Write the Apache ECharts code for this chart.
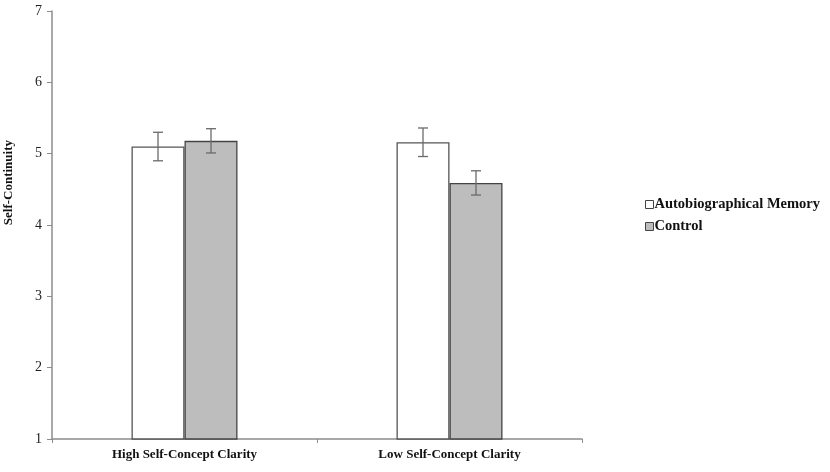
<!DOCTYPE html>
<html>
<head>
<meta charset="utf-8">
<script src="https://cdn.jsdelivr.net/npm/echarts@6/dist/echarts.min.js"></script>
<style>html,body{margin:0;padding:0;background:#fff}#c{width:830px;height:472px}</style>
</head>
<body>
<div id="c"></div>
<script>
const categories = ['High Self-Concept Clarity', 'Low Self-Concept Clarity'];
const seriesNames = ['Autobiographical Memory', 'Control'];
const memoryValues = [5.10, 5.16];
const memoryErrors = [0.20, 0.20];
const controlValues = [5.18, 4.59];
const controlErrors = [0.17, 0.17];
const yTicks = [1, 2, 3, 4, 5, 6, 7];

const FONT = '"Liberation Serif", "DejaVu Serif", serif';
const chart = echarts.init(document.getElementById('c'), null, {renderer: 'canvas'});

function errorSeries(values, errors, side) {
  return {
    type: 'custom',
    silent: true,
    z: 10,
    data: values.map((v, i) => [i, v, errors[i]]),
    renderItem: function (params, api) {
      const idx = api.value(0);
      const band = api.size([1, 0])[0];
      const off = band * 0.1 * side;
      const top = api.coord([idx, api.value(1) + api.value(2)]);
      const bot = api.coord([idx, api.value(1) - api.value(2)]);
      const x = top[0] + off;
      const cap = 5;
      const st = {stroke: '#6a6a6a', lineWidth: 1.3};
      return {
        type: 'group',
        children: [
          {type: 'line', shape: {x1: x, y1: top[1], x2: x, y2: bot[1]}, style: st},
          {type: 'line', shape: {x1: x - cap, y1: top[1], x2: x + cap, y2: top[1]}, style: st},
          {type: 'line', shape: {x1: x - cap, y1: bot[1], x2: x + cap, y2: bot[1]}, style: st}
        ]
      };
    }
  };
}

chart.setOption({
  backgroundColor: '#ffffff',
  animation: false,
  grid: {left: 52, right: 248, top: 11, bottom: 33, containLabel: false},
  legend: {
    orient: 'vertical',
    left: 640,
    top: 192,
    itemGap: 7,
    itemWidth: 8,
    itemHeight: 8,
    icon: 'rect',
    data: seriesNames,
    textStyle: {fontFamily: FONT, fontWeight: 'bold', fontSize: 14.5, color: '#111', padding: [0, 0, 0, -4]},
    itemStyle: {borderColor: '#444', borderWidth: 1}
  },
  xAxis: {
    type: 'category',
    data: categories,
    axisLine: {lineStyle: {color: '#8c8c8c', width: 1.5}},
    axisTick: {show: true, length: 4, lineStyle: {color: '#8c8c8c'}},
    axisLabel: {fontFamily: FONT, fontWeight: 'bold', fontSize: 13, color: '#111', margin: 9}
  },
  yAxis: {
    type: 'value',
    min: yTicks[0],
    max: yTicks[yTicks.length - 1],
    interval: 1,
    splitLine: {show: false},
    axisLine: {show: true, lineStyle: {color: '#8c8c8c', width: 1.5}},
    axisTick: {show: true, length: 5, lineStyle: {color: '#8c8c8c'}},
    axisLabel: {fontFamily: FONT, fontSize: 14, color: '#222', margin: 10}
  },
  graphic: [{
    type: 'text',
    left: 2,
    top: 140,
    rotation: Math.PI / 2,
    style: {text: 'Self-Continuity', font: 'bold 13px ' + FONT, fill: '#111'}
  }],
  series: [
    {
      name: seriesNames[0],
      type: 'bar',
      data: memoryValues,
      barWidth: '20%',
      barGap: '0%',
      itemStyle: {color: '#ffffff', borderColor: '#555555', borderWidth: 1.3}
    },
    {
      name: seriesNames[1],
      type: 'bar',
      data: controlValues,
      barWidth: '20%',
      barGap: '0%',
      itemStyle: {color: '#bdbdbd', borderColor: '#444444', borderWidth: 1.3}
    },
    errorSeries(memoryValues, memoryErrors, -1),
    errorSeries(controlValues, controlErrors, 1)
  ]
});
</script>
</body>
</html>
